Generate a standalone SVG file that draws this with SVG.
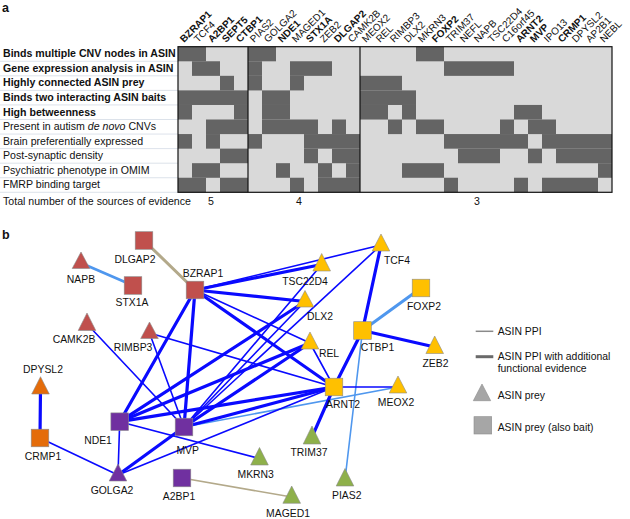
<svg xmlns="http://www.w3.org/2000/svg" width="630" height="519" viewBox="0 0 630 519">
<style>
text{font-family:"Liberation Sans",Arial,sans-serif;fill:#111}
.pl{font-size:12.5px;font-weight:bold}
.rl{font-size:10.6px}
.b{font-weight:bold}
.cl{font-size:10px}
.nl{font-size:10.4px;text-anchor:middle}
.lg{font-size:10.4px}
.dk{fill:#646464}
.sep{stroke:#d3dbe5;stroke-width:0.8}
.e{fill:none;stroke-linecap:round}
.tk{stroke:#0a0aff;stroke-width:3.2}
.tn{stroke:#0a0aff;stroke-width:1.6}
.lb{stroke:#4f97ee}
.tan{stroke:#b3a98a}
.n{stroke:#8c8c8c;stroke-width:0.6}
.red{fill:#c0504d}.org{fill:#e46c0a}.yel{fill:#ffc000}.pur{fill:#7030a0}.grn{fill:#8eb04a}.gry{fill:#a6a6a6}
</style>

<!-- Panel a -->
<text class="pl" x="2" y="12">a</text>

<g id="row-labels">
<line class="sep" x1="0" y1="61.26" x2="178" y2="61.26"/>
<line class="sep" x1="0" y1="75.82" x2="178" y2="75.82"/>
<line class="sep" x1="0" y1="90.38" x2="178" y2="90.38"/>
<line class="sep" x1="0" y1="104.94" x2="178" y2="104.94"/>
<line class="sep" x1="0" y1="119.5" x2="178" y2="119.5"/>
<line class="sep" x1="0" y1="134.06" x2="178" y2="134.06"/>
<line class="sep" x1="0" y1="148.62" x2="178" y2="148.62"/>
<line class="sep" x1="0" y1="163.18" x2="178" y2="163.18"/>
<line class="sep" x1="0" y1="177.74" x2="178" y2="177.74"/>
<line class="sep" x1="0" y1="192.3" x2="178" y2="192.3"/>
<text class="rl b" x="3" y="57.3">Binds multiple CNV nodes in ASIN</text>
<text class="rl b" x="3" y="71.9">Gene expression analysis in ASIN</text>
<text class="rl b" x="3" y="86.4">Highly connected ASIN prey</text>
<text class="rl b" x="3" y="101">Binds two interacting ASIN baits</text>
<text class="rl b" x="3" y="115.5">High betweenness</text>
<text class="rl" x="3" y="130.1">Present in autism <tspan font-style="italic">de novo</tspan> CNVs</text>
<text class="rl" x="3" y="144.7">Brain preferentially expressed</text>
<text class="rl" x="3" y="159.2">Post-synaptic density</text>
<text class="rl" x="3" y="173.8">Psychiatric phenotype in OMIM</text>
<text class="rl" x="3" y="188.3">FMRP binding target</text>
<text class="rl" x="3" y="205">Total number of the sources of evidence</text>
<text class="rl" x="211" y="205" text-anchor="middle">5</text>
<text class="rl" x="299" y="205" text-anchor="middle">4</text>
<text class="rl" x="477" y="205" text-anchor="middle">3</text>
</g>

<g id="column-labels" class="cl">
<text class="b" transform="translate(184,43) rotate(-45)">BZRAP1</text>
<text transform="translate(198,43) rotate(-45)">TCF4</text>
<text class="b" transform="translate(212,43) rotate(-45)">A2BP1</text>
<text class="b" transform="translate(226,43) rotate(-45)">SEPT5</text>
<text class="b" transform="translate(240,43) rotate(-45)">CTBP1</text>
<text transform="translate(254,43) rotate(-45)">PIAS2</text>
<text transform="translate(268,43) rotate(-45)">GOLGA2</text>
<text class="b" transform="translate(282,43) rotate(-45)">NDE1</text>
<text transform="translate(296,43) rotate(-45)">MAGED1</text>
<text class="b" transform="translate(310,43) rotate(-45)">STX1A</text>
<text transform="translate(324,43) rotate(-45)">ZEB2</text>
<text class="b" transform="translate(338,43) rotate(-45)">DLGAP2</text>
<text transform="translate(352,43) rotate(-45)">CAMK2B</text>
<text transform="translate(366,43) rotate(-45)">MEOX2</text>
<text transform="translate(380,43) rotate(-45)">REL</text>
<text transform="translate(394,43) rotate(-45)">RIMBP3</text>
<text transform="translate(408,43) rotate(-45)">DLX2</text>
<text transform="translate(422,43) rotate(-45)">MKRN3</text>
<text class="b" transform="translate(436,43) rotate(-45)">FOXP2</text>
<text transform="translate(450,43) rotate(-45)">TRIM37</text>
<text transform="translate(464,43) rotate(-45)">NEFL</text>
<text transform="translate(478,43) rotate(-45)">NAPB</text>
<text transform="translate(492,43) rotate(-45)">TSC22D4</text>
<text transform="translate(506,43) rotate(-45)">C16orf45</text>
<text class="b" transform="translate(520,43) rotate(-45)">ARNT2</text>
<text class="b" transform="translate(534,43) rotate(-45)">MVP</text>
<text transform="translate(548,43) rotate(-45)">IPO13</text>
<text class="b" transform="translate(562,43) rotate(-45)">CRMP1</text>
<text transform="translate(576,43) rotate(-45)">DPYSL2</text>
<text transform="translate(590,43) rotate(-45)">AP2B1</text>
<text transform="translate(604,43) rotate(-45)">NEBL</text>
</g>

<g id="heatmap">
<rect x="178" y="46.7" width="434" height="145.6" fill="#d9d9d9"/>
<g class="dk">
<rect x="178" y="46.7" width="28" height="14.6"/><rect x="248" y="46.7" width="28" height="14.6"/><rect x="416" y="46.7" width="28" height="14.6"/>
<rect x="192" y="61.26" width="28" height="14.6"/><rect x="248" y="61.26" width="14" height="14.6"/><rect x="290" y="61.26" width="42" height="14.6"/><rect x="444" y="61.26" width="70" height="14.6"/>
<rect x="220" y="75.82" width="14" height="14.6"/><rect x="248" y="75.82" width="14" height="14.6"/><rect x="290" y="75.82" width="14" height="14.6"/><rect x="360" y="75.82" width="42" height="14.6"/>
<rect x="178" y="90.38" width="70" height="14.6"/><rect x="262" y="90.38" width="28" height="14.6"/><rect x="360" y="90.38" width="56" height="14.6"/>
<rect x="178" y="104.94" width="14" height="14.6"/><rect x="234" y="104.94" width="14" height="14.6"/><rect x="262" y="104.94" width="28" height="14.6"/><rect x="360" y="104.94" width="28" height="14.6"/><rect x="402" y="104.94" width="14" height="14.6"/><rect x="514" y="104.94" width="28" height="14.6"/>
<rect x="206" y="119.5" width="42" height="14.6"/><rect x="262" y="119.5" width="56" height="14.6"/><rect x="332" y="119.5" width="14" height="14.6"/><rect x="388" y="119.5" width="14" height="14.6"/><rect x="416" y="119.5" width="28" height="14.6"/><rect x="500" y="119.5" width="14" height="14.6"/><rect x="528" y="119.5" width="28" height="14.6"/>
<rect x="178" y="134.06" width="14" height="14.6"/><rect x="206" y="134.06" width="14" height="14.6"/><rect x="248" y="134.06" width="14" height="14.6"/><rect x="304" y="134.06" width="56" height="14.6"/><rect x="444" y="134.06" width="84" height="14.6"/><rect x="542" y="134.06" width="70" height="14.6"/>
<rect x="220" y="148.62" width="28" height="14.6"/><rect x="304" y="148.62" width="14" height="14.6"/><rect x="332" y="148.62" width="28" height="14.6"/><rect x="458" y="148.62" width="42" height="14.6"/><rect x="528" y="148.62" width="14" height="14.6"/><rect x="556" y="148.62" width="56" height="14.6"/>
<rect x="192" y="163.18" width="28" height="14.6"/><rect x="276" y="163.18" width="14" height="14.6"/><rect x="318" y="163.18" width="14" height="14.6"/><rect x="346" y="163.18" width="14" height="14.6"/><rect x="402" y="163.18" width="42" height="14.6"/><rect x="598" y="163.18" width="14" height="14.6"/>
<rect x="178" y="177.74" width="28" height="14.56"/><rect x="220" y="177.74" width="28" height="14.56"/><rect x="290" y="177.74" width="14" height="14.56"/><rect x="318" y="177.74" width="42" height="14.56"/><rect x="444" y="177.74" width="14" height="14.56"/><rect x="514" y="177.74" width="14" height="14.56"/><rect x="542" y="177.74" width="56" height="14.56"/>
</g>
<rect x="178" y="46.7" width="434" height="145.6" fill="none" stroke="#111" stroke-width="1.2"/>
<line x1="248" y1="46.7" x2="248" y2="192.3" stroke="#111" stroke-width="1.2"/>
<line x1="360" y1="46.7" x2="360" y2="192.3" stroke="#111" stroke-width="1.2"/>
</g>

<!-- Panel b -->
<text class="pl" x="2" y="239">b</text>

<g id="connectors">
<line class="e tan" stroke-width="3" x1="144" y1="240.5" x2="195" y2="290"/>
<line class="e tan" stroke-width="1.6" x1="182" y1="478" x2="291.7" y2="497"/>
<line class="e lb" stroke-width="2.8" x1="81" y1="263" x2="133" y2="285.5"/>
<line class="e lb" stroke-width="3" x1="362.5" y1="330.5" x2="421" y2="288"/>
<line class="e lb" stroke-width="1.6" x1="362.5" y1="330.5" x2="345" y2="479.5"/>
<line class="e lb" stroke-width="1.6" x1="184" y1="427" x2="398" y2="387"/>

<line class="e tn" x1="195" y1="290" x2="381" y2="245"/>
<line class="e tn" x1="195" y1="290" x2="310" y2="343"/>
<line class="e tn" x1="381" y1="245" x2="184" y2="427"/>
<line class="e tn" x1="321.7" y1="264.5" x2="184" y2="427"/>
<line class="e tn" x1="305" y1="301.5" x2="184" y2="427"/>
<line class="e tn" x1="310" y1="343" x2="334" y2="387"/>
<line class="e tn" x1="149.5" y1="333" x2="334" y2="387"/>
<line class="e tn" x1="149.5" y1="333" x2="184" y2="427"/>
<line class="e tn" x1="87" y1="324" x2="184" y2="427"/>
<line class="e tn" stroke-width="2" x1="334" y1="387" x2="398" y2="387"/>
<line class="e tn" x1="119.7" y1="421.7" x2="118" y2="475"/>
<line class="e tn" x1="119.7" y1="421.7" x2="259.5" y2="458.5"/>
<line class="e tn" x1="40" y1="438" x2="118" y2="475"/>
<line class="e tn" x1="118" y1="475" x2="334" y2="387"/>

<line class="e tk" x1="195" y1="290" x2="321.7" y2="264.5"/>
<line class="e tk" x1="195" y1="290" x2="305" y2="301.5"/>
<line class="e tk" x1="195" y1="290" x2="334" y2="387"/>
<line class="e tk" x1="195" y1="290" x2="119.7" y2="421.7"/>
<line class="e tk" x1="195" y1="290" x2="184" y2="427"/>
<line class="e tk" x1="381" y1="245" x2="362.5" y2="330.5"/>
<line class="e tk" x1="362.5" y1="330.5" x2="434.7" y2="347"/>
<line class="e tk" x1="362.5" y1="330.5" x2="334" y2="387"/>
<line class="e tk" x1="334" y1="387" x2="312" y2="437"/>
<line class="e tk" x1="119.7" y1="421.7" x2="310" y2="343"/>
<line class="e tk" x1="119.7" y1="421.7" x2="305" y2="301.5"/>
<line class="e tk" x1="119.7" y1="421.7" x2="334" y2="387"/>
<line class="e tk" x1="184" y1="427" x2="310" y2="343"/>
<line class="e tk" x1="184" y1="427" x2="334" y2="387"/>
<line class="e tk" x1="184" y1="427" x2="118" y2="475"/>
<line class="e tk" x1="40" y1="438" x2="40.5" y2="388"/>
</g>

<g id="DLGAP2"><rect class="n red" x="135.2" y="231.7" width="17.6" height="17.6"/><text class="nl" x="135" y="262.7">DLGAP2</text></g>
<g id="NAPB"><polygon class="n red" points="81,252 72.2,268.5 89.8,268.5"/><text class="nl" x="81" y="283">NAPB</text></g>
<g id="STX1A"><rect class="n red" x="124.2" y="276.7" width="17.6" height="17.6"/><text class="nl" x="132" y="306">STX1A</text></g>
<g id="BZRAP1"><rect class="n red" x="186.2" y="281.2" width="17.6" height="17.6"/><text class="nl" x="203" y="277">BZRAP1</text></g>
<g id="CAMK2B"><polygon class="n red" points="87,313 78.2,330.5 95.8,330.5"/><text class="nl" x="74" y="343">CAMK2B</text></g>
<g id="RIMBP3"><polygon class="n red" points="149.5,322 140.7,338.5 158.3,338.5"/><text class="nl" x="133" y="351">RIMBP3</text></g>
<g id="DPYSL2"><polygon class="n org" points="40.5,376.7 31.7,394 49.3,394"/><text class="nl" x="43" y="373">DPYSL2</text></g>
<g id="CRMP1"><rect class="n org" x="31.2" y="429.2" width="17.6" height="17.6"/><text class="nl" x="43" y="460">CRMP1</text></g>
<g id="TSC22D4"><polygon class="n yel" points="321.7,253.5 312.9,271 330.5,271"/><text class="nl" x="305" y="285">TSC22D4</text></g>
<g id="DLX2"><polygon class="n yel" points="305,290.5 296.2,307 313.8,307"/><text class="nl" x="320" y="320">DLX2</text></g>
<g id="REL"><polygon class="n yel" points="310,332 301.2,349 318.8,349"/><text class="nl" x="329" y="357">REL</text></g>
<g id="TCF4"><polygon class="n yel" points="381,234 372.2,251 389.8,251"/><text class="nl" x="397" y="263.5">TCF4</text></g>
<g id="FOXP2"><rect class="n yel" x="412.2" y="279.2" width="17.6" height="17.6"/><text class="nl" x="424" y="310">FOXP2</text></g>
<g id="CTBP1"><rect class="n yel" x="353.7" y="321.7" width="17.6" height="17.6"/><text class="nl" x="377.5" y="351">CTBP1</text></g>
<g id="ZEB2"><polygon class="n yel" points="434.7,336 425.9,353.5 443.5,353.5"/><text class="nl" x="435.5" y="367">ZEB2</text></g>
<g id="ARNT2"><rect class="n yel" x="325.2" y="378.2" width="17.6" height="17.6"/><text class="nl" x="343" y="407.5">ARNT2</text></g>
<g id="MEOX2"><polygon class="n yel" points="398,376 389.2,393 406.8,393"/><text class="nl" x="396" y="406">MEOX2</text></g>
<g id="NDE1"><rect class="n pur" x="110.9" y="412.9" width="17.6" height="17.6"/><text class="nl" x="98" y="444">NDE1</text></g>
<g id="MVP"><rect class="n pur" x="175.2" y="418.2" width="17.6" height="17.6"/><text class="nl" x="187.7" y="453.5">MVP</text></g>
<g id="GOLGA2"><polygon class="n pur" points="118,464 109.2,481 126.8,481"/><text class="nl" x="112" y="494">GOLGA2</text></g>
<g id="A2BP1"><rect class="n pur" x="173.2" y="469.2" width="17.6" height="17.6"/><text class="nl" x="179" y="500">A2BP1</text></g>
<g id="TRIM37"><polygon class="n grn" points="312,426 303.2,444 320.8,444"/><text class="nl" x="309" y="456">TRIM37</text></g>
<g id="PIAS2"><polygon class="n grn" points="345,468.5 336.2,486 353.8,486"/><text class="nl" x="346.7" y="498.5">PIAS2</text></g>
<g id="MKRN3"><polygon class="n grn" points="259.5,447.5 250.7,465 268.3,465"/><text class="nl" x="255.7" y="477.5">MKRN3</text></g>
<g id="MAGED1"><polygon class="n grn" points="291.7,486 282.9,503.3 300.5,503.3"/><text class="nl" x="288" y="517">MAGED1</text></g>

<g id="legend">
<line x1="475.7" y1="331.3" x2="493.3" y2="331.3" stroke="#8a8a8a" stroke-width="1.5"/>
<text class="lg" x="497.7" y="334.5">ASIN PPI</text>
<line x1="475.7" y1="356.7" x2="493.3" y2="356.7" stroke="#6a6a6a" stroke-width="3"/>
<text class="lg" x="497.7" y="359.5">ASIN PPI with additional</text>
<text class="lg" x="497.7" y="372">functional evidence</text>
<polygon class="n gry" points="482,384 473.3,400.7 490.7,400.7"/>
<text class="lg" x="497.7" y="398.5">ASIN prey</text>
<rect class="n gry" x="474" y="416.7" width="17.7" height="17.3"/>
<text class="lg" x="497.7" y="431">ASIN prey (also bait)</text>
</g>
</svg>
